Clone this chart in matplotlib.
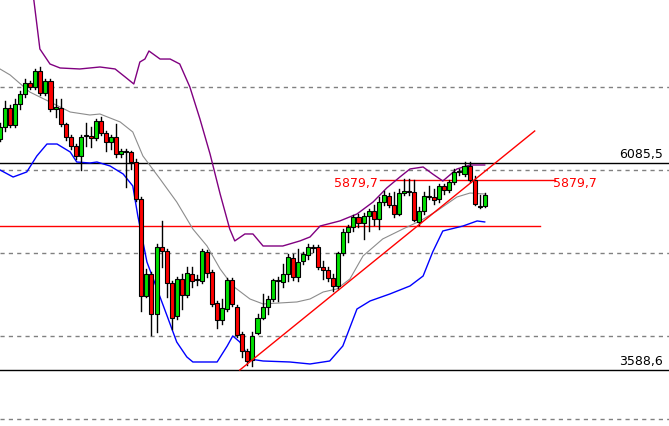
import matplotlib
matplotlib.use("Agg")
import matplotlib.pyplot as plt
from matplotlib.patches import Rectangle

opens = [6375,6519,6748,6543,6797,6917,7050,7002,7195,6929,7074,6736,6748,6555,6399,6290,6170,6411,6411,6387,
         6592,6447,6338,6399,6194,6218,6218,6097,5651,4481,4746,4264,5072,5024,4638,4240,4686,4493,4746,4674,
         4662,5012,4771,4397,4192,4324,4674,4349,4023,3818,3709,4035,4216,4349,4445,4662,4650,4746,4940,4710,
         4903,4976,5072,5072,4831,4795,4698,4602,5000,5253,5313,5434,5362,5446,5506,5410,5615,5687,5579,5470,
         5723,5748,5735,5374,5506,5687,5675,5651,5808,5760,5856,5977,5952,6049,5880,5567,5567]
closes = [6519,6748,6543,6797,6917,7050,7002,7195,6929,7074,6736,6761,6555,6399,6290,6170,6399,6423,6387,6592,
          6447,6338,6399,6194,6230,6230,6097,5651,4481,4746,4264,5072,5024,4638,4216,4686,4493,4759,4662,4680,
          5024,4759,4385,4192,4336,4674,4385,4011,3818,3697,3999,4216,4349,4445,4674,4674,4746,4952,4710,4891,
          4988,5072,5060,4831,4795,4698,4602,5000,5253,5313,5434,5362,5446,5506,5410,5615,5699,5579,5470,5723,
          5748,5735,5398,5506,5687,5675,5639,5808,5760,5856,5977,5989,6049,5880,5591,5555,5699]
highs = [6568,6833,6785,6857,6953,7098,7074,7219,7243,7098,7098,6857,6857,6568,6423,6314,6423,6568,6519,6616,
         6640,6471,6423,6555,6254,6254,6230,6133,5675,4807,4771,5108,5386,5048,4662,4710,4746,4831,4831,4734,
         5048,5036,4795,4421,4445,4698,4698,4373,4047,3842,4047,4264,4505,4481,4686,4710,4867,4988,4988,5048,
         5012,5108,5096,5096,4903,4831,4746,5012,5289,5337,5458,5470,5482,5530,5579,5675,5748,5723,5735,5772,
         5892,5892,5880,5555,5735,5808,5772,5832,5832,5880,6013,6013,6097,6097,5928,5699,5723]
lows = [6350,6471,6519,6519,6736,6881,6978,6978,6905,6905,6712,6640,6531,6363,6254,6133,6001,6290,6278,6363,
        6423,6230,6254,6158,6158,5796,6013,5627,4300,4469,4011,4047,4831,4469,4083,4204,4324,4469,4590,4614,
        4638,4710,4361,4095,4143,4300,4361,3987,3746,3649,3637,4023,4204,4264,4421,4421,4590,4662,4674,4662,
        4867,4927,5012,4807,4686,4662,4542,4566,4976,5132,5265,5313,5169,5265,5337,5289,5579,5555,5434,5458,
        5699,5699,5386,5337,5470,5651,5591,5615,5711,5735,5832,5940,5928,5856,5579,5543,5555]

upper_idx = [6.5,7.9,9.9,11.9,15.8,19.8,22.8,24.8,26.5,27.7,28.7,29.5,31.7,33.7,35.6,37.6,39.6,41.6,43.6,45.5,46.5,
             48.5,50.1,52.1,56,59.4,61.4,63.4,67.3,70.7,73.9,76.6,79.2,81.2,83.8,85.7,87.7,90.5,93.1,96]
upper_val = [8150,7460,7279,7231,7219,7243,7219,7122,7038,7303,7339,7436,7339,7339,7279,7002,6616,6194,5711,5289,5145,
             5229,5229,5084,5084,5145,5193,5325,5386,5470,5615,5784,5916,6013,6037,5952,5868,6013,6061,6061]
mid_idx = [0,2,5.9,9.9,13.9,17.8,19.8,23.8,26.3,28.3,31.7,35,38.2,41,43.6,46.1,49.5,52.1,58.8,61.4,64,66.7,
           69.3,71.9,75.8,79.8,83.2,86.5,90.5,93.1,96]
mid_val = [7219,7147,6941,6821,6700,6664,6676,6580,6459,6170,5892,5615,5289,5084,4807,4602,4445,4385,4409,4445,
           4529,4566,4686,4964,5169,5289,5386,5506,5675,5723,5711]
lower_idx = [0,2.6,5.3,7.3,9.3,11.3,13.9,15.2,17.8,19.2,21.8,24.4,26.3,27.3,29.1,31.1,33.1,35,37,38.2,41,43,45,
             46.1,47.5,49.5,52.1,57.4,61.4,65.3,67.9,70.7,73.3,77.2,81.2,83.8,85.7,87.7,91.7,94.5,96]
lower_val = [6001,5916,5977,6170,6314,6314,6218,6097,6085,6097,6049,5952,5808,5446,4891,4566,4240,3926,3746,3685,
             3685,3685,3878,3999,3926,3721,3697,3685,3661,3697,3878,4324,4421,4505,4602,4722,5012,5265,5325,5386,5374]

level_hi = 6085.5
level_lo = 3588.6
level_mid = 5879.7
support = 5325
grid_levels = [3000, 4000, 5000, 6000, 7000]
trend_x = [47.5, 105.9]
trend_y = [3588.6, 6471]

fig = plt.figure(figsize=(6.69, 4.27), dpi=100)
ax = fig.add_axes([0, 0, 1, 1])
ax.set_xlim(0, 132.5)
ax.set_ylim(2913, 8063)
ax.axis("off")

for g in grid_levels:
    ax.axhline(g, color="#808080", lw=1, ls=(0, (3, 3)))

ax.axhline(level_hi, color="black", lw=1)
ax.axhline(level_lo, color="black", lw=1)
ax.plot([0, 106.9], [support, support], color="red", lw=1)
ax.plot([75.2, 109.9], [level_mid, level_mid], color="red", lw=1)

ax.plot(upper_idx, upper_val, color="#800080", lw=1)
ax.plot(mid_idx, mid_val, color="#8c8c8c", lw=0.8)
ax.plot(lower_idx, lower_val, color="#0000ff", lw=1)

w = 0.8
for i, (o, c, h, l) in enumerate(zip(opens, closes, highs, lows)):
    ax.plot([i, i], [l, h], color="black", lw=1, zorder=3)
    col = "#00e000" if c >= o else "#ff0000"
    ax.add_patch(Rectangle((i - w / 2, min(o, c)), w, max(abs(c - o), 12),
                           facecolor=col, edgecolor="black", lw=0.8, zorder=4))

ax.plot(trend_x, trend_y, color="red", lw=1, zorder=5)

ax.text(131.3, level_hi + 40, "6085,5", ha="right", va="bottom", fontsize=9, color="black")
ax.text(131.3, level_lo + 40, "3588,6", ha="right", va="bottom", fontsize=9, color="black")
ax.text(74.8, level_mid - 30, "5879,7", ha="right", va="center", fontsize=9, color="red")
ax.text(109.5, level_mid - 30, "5879,7", ha="left", va="center", fontsize=9, color="red")

fig.savefig("out.png", dpi=100)
